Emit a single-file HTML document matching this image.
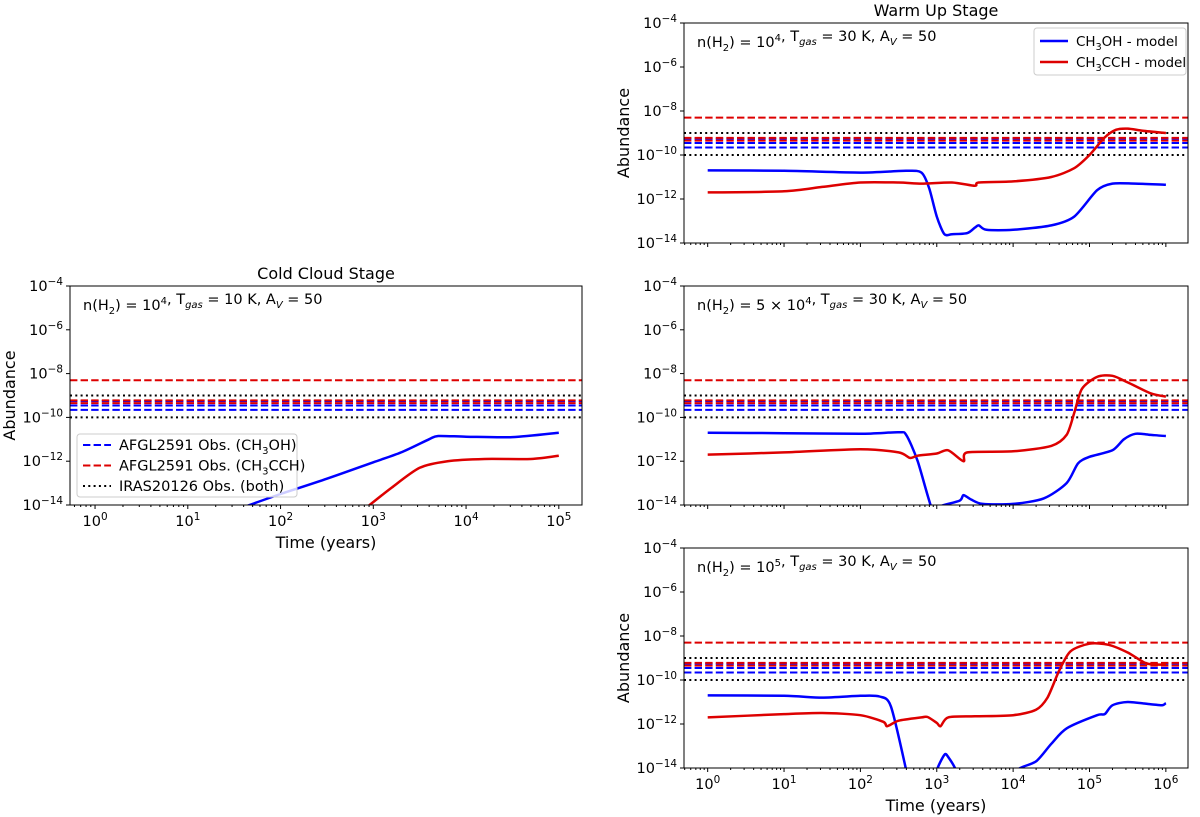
<!DOCTYPE html>
<html><head><meta charset="utf-8"><style>
html,body{margin:0;padding:0;background:#fff;}
svg{display:block;font-family:"DejaVu Sans","Liberation Sans",sans-serif;}
</style></head><body>
<svg id="fig" width="1200" height="817" viewBox="0 0 1200 817"></svg>
<script>
// ---- data (log10 time, log10 abundance) ----
const obsBlue = [2.2e-10, 3.5e-10, 5.5e-10];
const obsRed = [4.5e-10, 6e-10, 5e-9];
const obsBlack = [1e-10, 1e-9];
const coldBlueX = [1.6,2,2.5,3,3.3,3.6,3.7,4,4.5,5];
const coldBlueY = [-14.1,-13.5,-12.8,-12.05,-11.6,-11,-10.85,-10.88,-10.9,-10.7];
const coldRedX = [2.93,3.2,3.5,3.8,4.2,4.7,5];
const coldRedY = [-14.1,-13.2,-12.3,-12,-11.9,-11.9,-11.75];
const w1BlueX = [0,1,2,2.6,2.8,2.9,3.0,3.1,3.2,3.4,3.5,3.55,3.65,4,4.5,4.8,5.1,5.3,5.6,6];
const w1BlueY = [-10.7,-10.72,-10.8,-10.72,-10.8,-11.5,-12.8,-13.6,-13.6,-13.55,-13.3,-13.2,-13.4,-13.4,-13.2,-12.8,-11.6,-11.3,-11.3,-11.35];
const w1RedX = [0,1,1.5,2,2.5,2.8,3.2,3.5,3.55,4,4.5,4.8,5,5.2,5.35,5.5,5.7,6];
const w1RedY = [-11.7,-11.65,-11.45,-11.25,-11.25,-11.3,-11.25,-11.4,-11.25,-11.2,-11,-10.6,-10,-9.2,-8.85,-8.8,-8.9,-9.0];
const w2BlueX = [0,1,2,2.5,2.6,2.75,2.95,3.05,3.3,3.35,3.45,3.6,4,4.4,4.7,4.85,5.0,5.3,5.45,5.6,5.8,6];
const w2BlueY = [-10.7,-10.72,-10.75,-10.68,-10.8,-12,-14.3,-14.05,-13.8,-13.55,-13.75,-13.95,-13.95,-13.7,-13.0,-12.1,-11.8,-11.5,-11.0,-10.75,-10.8,-10.85];
const w2RedX = [0,1,2,2.5,2.65,2.75,3,3.15,3.35,3.4,4,4.5,4.7,4.8,4.9,5.1,5.3,5.5,5.8,6];
const w2RedY = [-11.7,-11.6,-11.45,-11.6,-11.85,-11.75,-11.65,-11.5,-12.0,-11.6,-11.55,-11.3,-10.8,-9.8,-8.7,-8.15,-8.1,-8.4,-8.9,-9.05];
const w3BlueX = [0,1,1.5,2,2.25,2.4,2.6,2.65,2.95,3.0,3.1,3.15,3.25,3.3,4.0,4.05,4.3,4.5,4.7,5.1,5.2,5.3,5.5,5.8,5.95,6];
const w3BlueY = [-10.7,-10.72,-10.8,-10.72,-10.75,-11.2,-14.1,-15,-15,-14.1,-13.4,-13.5,-14.1,-15,-15,-14.1,-13.7,-12.9,-12.2,-11.6,-11.55,-11.15,-11.0,-11.1,-11.15,-11.05];
const w3RedX = [0,1,1.5,2,2.3,2.35,2.5,2.8,2.88,3,3.05,3.15,3.5,4,4.3,4.45,4.6,4.75,5,5.25,5.5,5.75,6];
const w3RedY = [-11.7,-11.55,-11.5,-11.6,-11.9,-12.1,-11.85,-11.7,-11.68,-11.95,-12.1,-11.7,-11.65,-11.6,-11.35,-10.8,-9.6,-8.7,-8.35,-8.4,-8.75,-9.25,-9.3];
const yTicks = [-4,-6,-8,-10,-12,-14];

const NS = "http://www.w3.org/2000/svg";
const fig = document.getElementById('fig');
function mk(tag, attrs, parent){const e=document.createElementNS(NS,tag);for(const k in attrs)e.setAttribute(k,attrs[k]);(parent||fig).appendChild(e);return e;}
function sup(parent, x, y, base, exp, anchor, size){
  const t=mk('text',{x:x,y:y,'text-anchor':anchor,'font-size':size,fill:'#000'},parent);
  t.appendChild(document.createTextNode(base));
  const s=mk('tspan',{dy:-6,'font-size':size*0.72},t); s.textContent=exp;
  return t;
}
function smoothPath(pts){
  let d='M'+pts[0][0].toFixed(1)+','+pts[0][1].toFixed(1);
  for(let i=0;i<pts.length-1;i++){
    const p0=pts[Math.max(0,i-1)],p1=pts[i],p2=pts[i+1],p3=pts[Math.min(pts.length-1,i+2)];
    const k=1/6*0.8;
    const c1=[p1[0]+(p2[0]-p0[0])*k,p1[1]+(p2[1]-p0[1])*k];
    const c2=[p2[0]-(p3[0]-p1[0])*k,p2[1]-(p3[1]-p1[1])*k];
    d+=' C'+c1[0].toFixed(1)+','+c1[1].toFixed(1)+' '+c2[0].toFixed(1)+','+c2[1].toFixed(1)+' '+p2[0].toFixed(1)+','+p2[1].toFixed(1);
  }
  return d;
}
let cid=0;
function panel(o){
  const g=mk('g',{});
  
  
  const L=o.x0,R=o.x1,T=o.y0,B=o.y1;
  const sx=v=>L+(v-o.xmin)/(o.xmax-o.xmin)*(R-L);
  const sy=v=>T+(-4-v)/10*(B-T);
  const id='clip'+(cid++);
  const cp=mk('clipPath',{id:id},g); mk('rect',{x:L,y:T,width:R-L,height:B-T},cp);
  const pg=mk('g',{'clip-path':'url(#'+id+')'},g);
  obsBlue.forEach(v=>{const l=mk('line',{x1:L,x2:R,y1:sy(Math.log10(v)),y2:sy(Math.log10(v)),stroke:'#0000ff','stroke-width':2,'stroke-dasharray':'7.4,3.2'},pg);
    });
  obsRed.forEach(v=>{const l=mk('line',{x1:L,x2:R,y1:sy(Math.log10(v)),y2:sy(Math.log10(v)),stroke:'#dd0000','stroke-width':2,'stroke-dasharray':'7.4,3.2'},pg);
    });
  obsBlack.forEach(v=>{const l=mk('line',{x1:L,x2:R,y1:sy(Math.log10(v)),y2:sy(Math.log10(v)),stroke:'#000','stroke-width':2,'stroke-dasharray':'2,3.3'},pg);
    });
  [[o.bx,o.by,'#0000ff','ch3oh-model-line'],[o.rx,o.ry,'#dd0000','ch3cch-model-line']].forEach(s=>{
    const pts=s[0].map((x,i)=>[sx(x),sy(s[1][i])]);
    const p=mk('path',{d:smoothPath(pts),fill:'none',stroke:s[2],'stroke-width':2.5,'stroke-linejoin':'round'},pg);
    
  });
  const fr=mk('rect',{x:L,y:T,width:R-L,height:B-T,fill:'none',stroke:'#000','stroke-width':1},g);
  
  yTicks.forEach(v=>{mk('line',{x1:L-4,x2:L,y1:sy(v),y2:sy(v),stroke:'#000'},g);
    const t=sup(g,L-7,sy(v)+5,'10','\u2212'+(-v),'end',14.5);
    });
  for(let d=Math.floor(o.xmin);d<=Math.ceil(o.xmax);d++){
    for(let k=1;k<10;k++){const v=d+Math.log10(k); if(v<o.xmin||v>o.xmax)continue;
      mk('line',{x1:sx(v),x2:sx(v),y1:B,y2:B+(k==1?4:2),stroke:'#000'},g);}
    if(d>=0&&d<=o.xmaxLabel&&o.xlabels){const t=sup(g,sx(d),B+21,'10',String(d),'middle',14.5);
      }
  }
  if(o.title){const t=mk('text',{x:(L+R)/2,y:T-7,'text-anchor':'middle','font-size':16},g);t.textContent=o.title;
    }
  const a=mk('text',{x:L+13,y:T+24,'font-size':14.5},g);
  
  a.innerHTML='n(H<tspan font-size="10" dy="4">2</tspan><tspan dy="-4">) = '+o.nh+'</tspan>, T<tspan font-size="10" dy="4" font-style="italic">gas</tspan><tspan dy="-4"> = '+o.T+' K, A</tspan><tspan font-size="10" dy="4" font-style="italic">V</tspan><tspan dy="-4"> = 50</tspan>';
  if(o.ylabel){const t=mk('text',{x:0,y:0,'text-anchor':'middle','font-size':16,transform:'translate('+(L-55)+','+((T+B)/2)+') rotate(-90)'},g);t.textContent='Abundance';
    }
  if(o.xtitle){const t=mk('text',{x:(L+R)/2,y:B+43,'text-anchor':'middle','font-size':16},g);t.textContent='Time (years)';
    }
  return g;
}
const sup4='10<tspan font-size="10" dy="-6">4</tspan><tspan dy="6"></tspan>';
panel({name:'cold-cloud-panel',x0:70,x1:582,y0:286,y1:505,xmin:-0.27,xmax:5.25,xmaxLabel:5,xlabels:true,title:'Cold Cloud Stage',nh:sup4,T:10,ylabel:true,xtitle:true,bx:coldBlueX,by:coldBlueY,rx:coldRedX,ry:coldRedY});
panel({name:'warm-up-panel-1e4',x0:684,x1:1188,y0:23,y1:243,xmin:-0.31,xmax:6.29,xmaxLabel:6,xlabels:false,title:'Warm Up Stage',nh:sup4,T:30,ylabel:true,bx:w1BlueX,by:w1BlueY,rx:w1RedX,ry:w1RedY});
panel({name:'warm-up-panel-5e4',x0:684,x1:1188,y0:286,y1:505,xmin:-0.31,xmax:6.29,xmaxLabel:6,xlabels:false,nh:'5 \u00d7 '+sup4,T:30,ylabel:false,bx:w2BlueX,by:w2BlueY,rx:w2RedX,ry:w2RedY});
panel({name:'warm-up-panel-1e5',x0:684,x1:1188,y0:548,y1:768,xmin:-0.31,xmax:6.29,xmaxLabel:6,xlabels:true,nh:'10<tspan font-size="10" dy="-6">5</tspan><tspan dy="6"></tspan>',T:30,ylabel:true,xtitle:true,bx:w3BlueX,by:w3BlueY,rx:w3RedX,ry:w3RedY});

function legend(x,y,w,h,items,name,gap,pad,fs){
  const g=mk('g',{});
  
  
  mk('rect',{x:x,y:y,width:w,height:h,rx:3,fill:'#fff','fill-opacity':0.8,stroke:'#ccc'},g);
  items.forEach((it,i)=>{
    const yy=y+pad+i*gap;
    mk('line',{x1:x+6,x2:x+34,y1:yy,y2:yy,stroke:it[0],'stroke-width':it[1],'stroke-dasharray':it[2]},g);
    const t=mk('text',{x:x+42,y:yy+5,'font-size':fs},g);
    
    t.innerHTML=it[3];
  });
}
legend(77,434,220,63,[
 ['#0000ff',2,'7.4,3.2','AFGL2591 Obs. (CH<tspan font-size="10" dy="4">3</tspan><tspan dy="-4">OH)</tspan>'],
 ['#dd0000',2,'7.4,3.2','AFGL2591 Obs. (CH<tspan font-size="10" dy="4">3</tspan><tspan dy="-4">CCH)</tspan>'],
 ['#000',2,'2,3.3','IRAS20126 Obs. (both)']],'obs-legend',20.5,11,14.5);
legend(1034,28,152,47,[
 ['#0000ff',2.5,'none','CH<tspan font-size="9.5" dy="4">3</tspan><tspan dy="-4">OH - model</tspan>'],
 ['#dd0000',2.5,'none','CH<tspan font-size="9.5" dy="4">3</tspan><tspan dy="-4">CCH - model</tspan>']],'model-legend',21,13,13.5);
</script>
</body></html>
